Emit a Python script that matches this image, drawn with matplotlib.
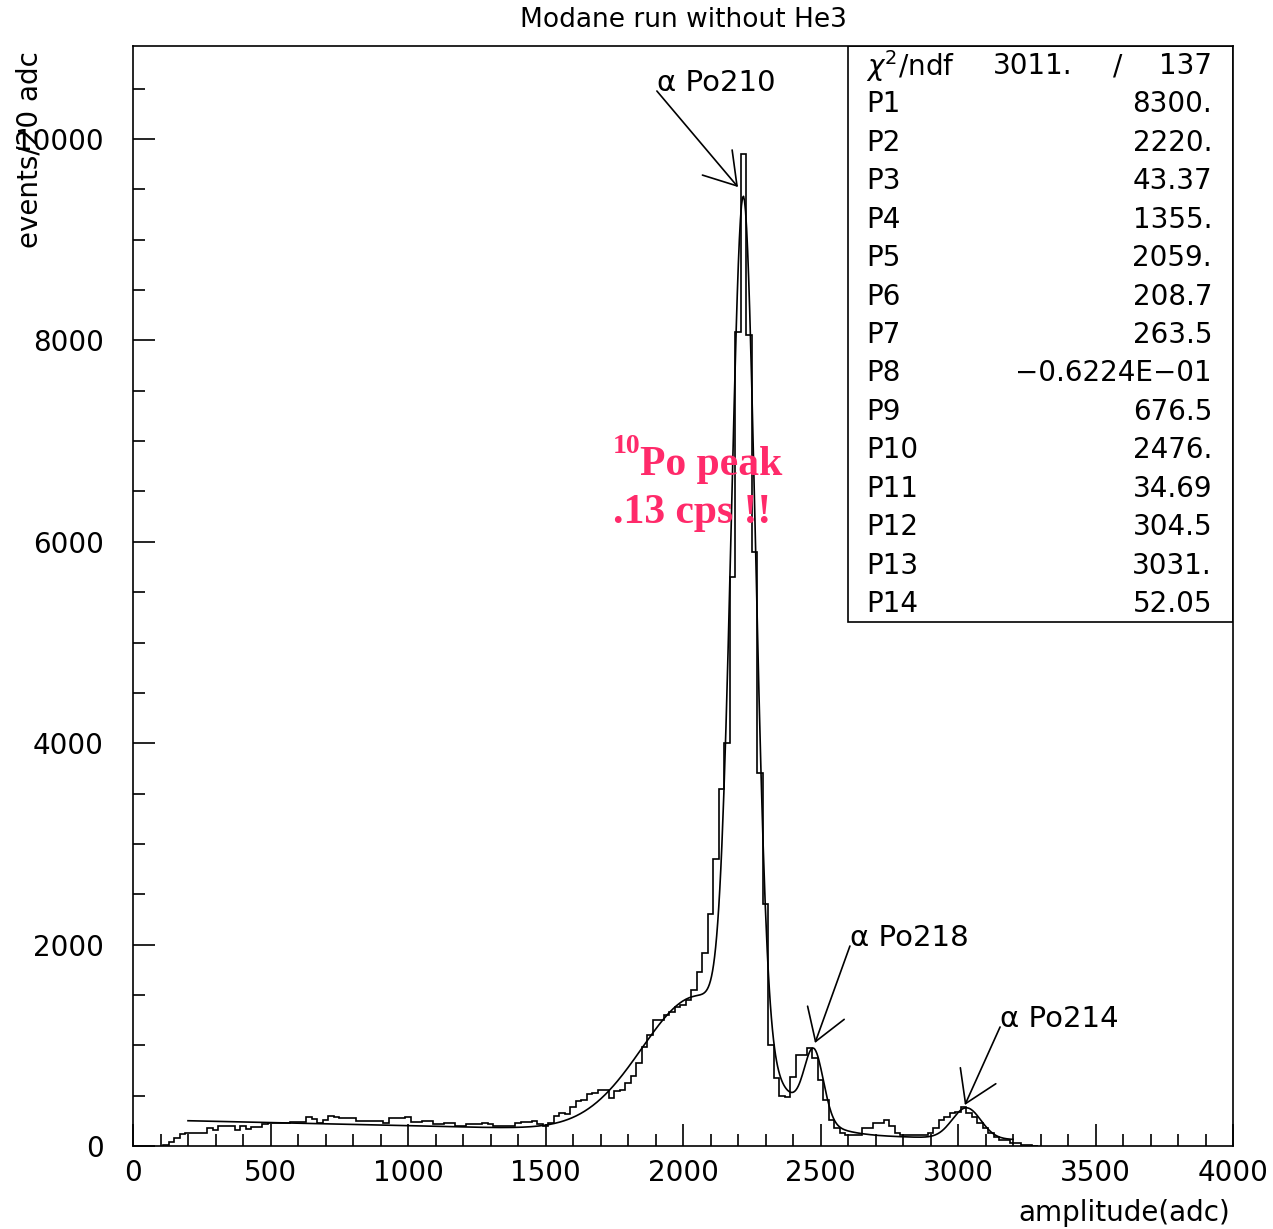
import matplotlib
matplotlib.use("Agg")
import matplotlib.pyplot as plt
import numpy as np
from matplotlib.patches import Rectangle

# histogram: 20 adc bins starting at 110 adc
BIN_LO = 110
BIN_W = 20
counts = [
    10, 43, 80, 115,
    126, 126, 130, 130, 175,
    160, 200, 200, 200, 160,
    200, 165, 192, 192, 218,
    225, 225, 225, 228, 240,
    240, 240, 285, 265, 225,
    260, 300, 290, 280, 278,
    278, 245, 245, 245, 245,
    250, 230, 278, 278, 278,
    285, 240, 240, 250, 250,
    220, 220, 230, 230, 200,
    200, 215, 220, 220, 230,
    215, 195, 195, 200, 200,
    225, 235, 235, 245, 215,
    200, 230, 300, 330, 320,
    390, 450, 455, 515, 530,
    556, 556, 480, 550, 560,
    625, 700, 820, 980, 1100,
    1250, 1250, 1300, 1330, 1380,
    1400, 1450, 1549, 1730, 1920,
    2300, 2850, 3550, 4000, 5650,
    8080, 9850, 8050, 5900, 3700,
    2400, 1000, 680, 500, 490,
    690, 900, 905, 975, 875,
    655, 457, 258, 179, 129,
    112, 112, 112, 179, 179,
    228, 228, 258, 200, 129,
    112, 112, 112, 112, 112,
    125, 179, 258, 291, 324,
    340, 390, 324, 291, 228,
    179, 129, 90, 60, 60,
    26, 26, 10, 10, 5,
]

# fit results as printed in the stats box
fit_params = [8300., 2220., 43.37, 1355., 2059., 208.7, 263.5, -0.06224,
              676.5, 2476., 34.69, 304.5, 3031., 52.05]
fit_text = ["8300.", "2220.", "43.37", "1355.", "2059.", "208.7", "263.5",
            "\u22120.6224E\u221201", "676.5", "2476.", "34.69", "304.5",
            "3031.", "52.05"]
chi2_text = "3011."
ndf_text = "137"
FIT_RANGE = (200, 3200)

# peak labels: (text, text pos, arrow tip)
peaks = [
    ("\u03b1 Po210", (1905, 10477), (2200, 9523)),
    ("\u03b1 Po218", (2607, 1986), (2480, 1023)),
    ("\u03b1 Po214", (3153, 1182), (3025, 407)),
]


def fit_func(x, p):
    g1 = p[0] * np.exp(-0.5 * ((x - p[1]) / p[2]) ** 2)
    g2 = p[3] * np.exp(-0.5 * ((x - p[4]) / p[5]) ** 2)
    bg = p[6] + p[7] * x
    g3 = p[8] * np.exp(-0.5 * ((x - p[9]) / p[10]) ** 2)
    g4 = p[11] * np.exp(-0.5 * ((x - p[12]) / p[13]) ** 2)
    return g1 + g2 + bg + g3 + g4


fs = 20
fig = plt.figure(figsize=(12.73, 12.29), dpi=100)
ax = fig.add_axes([0.10448, 0.06753, 0.86410, 0.89504])

edges = BIN_LO + BIN_W * np.arange(len(counts) + 1)
ax.stairs(counts, edges, color="black", lw=1.2)

xf = np.linspace(FIT_RANGE[0], FIT_RANGE[1], 800)
ax.plot(xf, fit_func(xf, fit_params), color="black", lw=1.2)

ax.set_xlim(0, 4000)
ax.set_ylim(0, 10924)
ax.set_xticks(np.arange(0, 4001, 500))
ax.set_xticks(np.arange(0, 4001, 100), minor=True)
ax.set_yticks(np.arange(0, 10001, 2000))
ax.set_yticks(np.arange(0, 10501, 500), minor=True)
ax.tick_params(which="both", direction="in", width=1.2, labelsize=fs)
ax.tick_params(which="major", length=16)
ax.tick_params(which="minor", length=8.5)
ax.tick_params(axis="x", pad=9)
ax.tick_params(axis="y", pad=21)
for s in ax.spines.values():
    s.set_linewidth(1.2)

# peak annotations
for label, (tx, ty), (px, py) in peaks:
    ax.annotate("", xy=(px, py), xytext=(tx, ty),
                arrowprops=dict(arrowstyle="->,head_length=2.2,head_width=1.4",
                                lw=1.2, color="black", shrinkA=0, shrinkB=0,
                                mutation_scale=10))
    ax.text(tx, ty, label, fontsize=21, ha="left", va="baseline")

# pink note
pink = "#ff2a6a"
ax.text(1745, 6880, "10", fontsize=20, color=pink, family="Liberation Serif",
        weight="bold", ha="left", va="baseline")
ax.text(1844, 6663, "Po peak", fontsize=30, color=pink, family="Liberation Serif",
        weight="bold", ha="left", va="baseline")
ax.text(1745, 6187, ".13 cps !!", fontsize=30, color=pink, family="Liberation Serif",
        weight="bold", ha="left", va="baseline")

# stats box
bx0 = (848 - 133) / 1100
by0 = (1146 - 622) / 1100
ax.add_patch(Rectangle((bx0, by0), 1 - bx0, 1 - by0, transform=ax.transAxes,
                       fill=False, lw=1.2, color="black", zorder=5))
xl = (866 - 133) / 1100
xr = (1212 - 133) / 1100
row0 = 66
dy = 38.43


def ry(i):
    return (1146 - (row0 + i * dy)) / 1100


ax.text(xl, ry(0), r"$\chi^2$/ndf", transform=ax.transAxes, fontsize=fs,
        ha="left", va="center")
ax.text((993 - 133) / 1100, ry(0), chi2_text, transform=ax.transAxes,
        fontsize=fs, ha="left", va="center")
ax.text((1118 - 133) / 1100, ry(0), "/", transform=ax.transAxes,
        fontsize=fs, ha="center", va="center")
ax.text(xr, ry(0), ndf_text, transform=ax.transAxes, fontsize=fs,
        ha="right", va="center")
for i, val in enumerate(fit_text):
    ax.text(xl, ry(i + 1), "P%d" % (i + 1), transform=ax.transAxes,
            fontsize=fs, ha="left", va="center")
    ax.text(xr, ry(i + 1), val, transform=ax.transAxes, fontsize=fs,
            ha="right", va="center")

fig.text(683 / 1273, 1 - 20 / 1229, "Modane run without He3", fontsize=19,
         ha="center", va="center")
fig.text(1230 / 1273, 1 - 1213 / 1229, "amplitude(adc)", fontsize=fs,
         ha="right", va="center")
# the reference places the y label over the top tick label
fig.text(30 / 1273, 1 - 150 / 1229, "events/20 adc", fontsize=fs,
         rotation=90, ha="center", va="center")

fig.savefig("out.png", dpi=100)
